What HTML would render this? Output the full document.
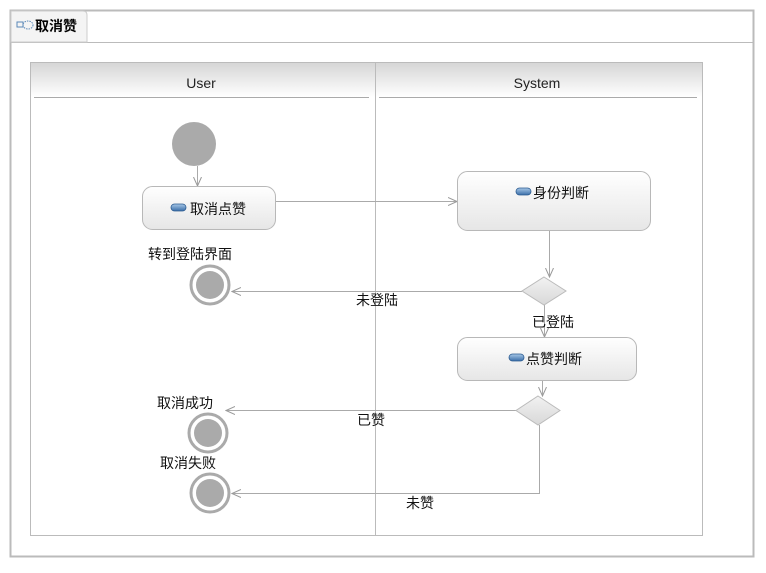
<!DOCTYPE html>
<html><head><meta charset="utf-8"><style>
body{margin:0;background:#fff;}
svg text{font-family:"Liberation Sans","Noto Sans CJK SC",sans-serif;}
</style></head><body>
<svg width="766" height="568" viewBox="0 0 766 568" xmlns="http://www.w3.org/2000/svg">
<defs>
<linearGradient id="hg" x1="0" y1="0" x2="0" y2="1"><stop offset="0" stop-color="#d6d6d6"/><stop offset="1" stop-color="#ffffff"/></linearGradient>
<linearGradient id="ag" x1="0" y1="0" x2="0" y2="1"><stop offset="0" stop-color="#ffffff"/><stop offset="1" stop-color="#e6e6e6"/></linearGradient>
<linearGradient id="dg" x1="0" y1="0" x2="0" y2="1"><stop offset="0" stop-color="#f2f2f2"/><stop offset="1" stop-color="#d8d8d8"/></linearGradient>
<linearGradient id="ig" x1="0" y1="0" x2="0" y2="1"><stop offset="0" stop-color="#a8c8e8"/><stop offset="1" stop-color="#3a6ea8"/></linearGradient>
<marker id="ar" markerWidth="10" markerHeight="10" refX="9" refY="5" orient="auto" markerUnits="userSpaceOnUse"><path d="M0,1 L9,5 L0,9" fill="none" stroke="#999" stroke-width="1"/></marker>
</defs>
<rect x="10.5" y="10.5" width="743" height="546" fill="#fff" stroke="#bbb" stroke-width="2"/>
<path d="M11 42.5 H753" stroke="#bbb"/>
<path d="M11 11 H83 Q87 11 87 15 V42 H11Z" fill="#f4f4f4" stroke="#ccc"/>
<rect x="17" y="22" width="6" height="5" fill="none" stroke="#5a88b8"/>
<ellipse cx="28" cy="25" rx="5" ry="4" fill="none" stroke="#5a88b8" stroke-dasharray="1.5,1"/>
<text x="35" y="31" font-size="14" font-weight="bold" fill="#000">取消赞</text>
<rect x="30.5" y="62.5" width="672" height="473" fill="#fff" stroke="#bbb"/>
<rect x="31" y="63" width="671" height="34" fill="url(#hg)"/>
<path d="M375.5 62 V535" stroke="#bbb"/>
<path d="M34 97.5 H369 M379 97.5 H697" stroke="#aaa"/>
<text x="201" y="88" font-size="14" text-anchor="middle" fill="#222">User</text>
<text x="537" y="88" font-size="14" text-anchor="middle" fill="#222">System</text>
<g stroke="#aaa" fill="none" stroke-width="1">
<path d="M197.5 166 V186" marker-end="url(#ar)"/>
<path d="M276 201.5 H457" marker-end="url(#ar)"/>
<path d="M549.5 230 V277" marker-end="url(#ar)"/>
<path d="M522 291.5 H232" marker-end="url(#ar)"/>
<path d="M544.5 305 V337" marker-end="url(#ar)"/>
<path d="M542.5 380 V396" marker-end="url(#ar)"/>
<path d="M516 410.5 H226" marker-end="url(#ar)"/>
<path d="M539.5 425 V493.5 H232" marker-end="url(#ar)"/>
</g>
<circle cx="194" cy="144" r="22" fill="#aaa"/>
<rect x="142.5" y="186.5" width="133" height="43" rx="10" fill="url(#ag)" stroke="#b8b8b8"/>
<rect x="457.5" y="171.5" width="193" height="59" rx="10" fill="url(#ag)" stroke="#b8b8b8"/>
<rect x="457.5" y="337.5" width="179" height="43" rx="10" fill="url(#ag)" stroke="#b8b8b8"/>
<rect x="171" y="204" width="15" height="7" rx="3.5" fill="url(#ig)" stroke="#2a5a90" stroke-width="0.8"/>
<rect x="516" y="188" width="15" height="7" rx="3.5" fill="url(#ig)" stroke="#2a5a90" stroke-width="0.8"/>
<rect x="509" y="354" width="15" height="7" rx="3.5" fill="url(#ig)" stroke="#2a5a90" stroke-width="0.8"/>
<text x="190" y="214" font-size="14" fill="#111">取消点赞</text>
<text x="533" y="198" font-size="14" fill="#111">身份判断</text>
<text x="526" y="364" font-size="14" fill="#111">点赞判断</text>
<path d="M544 277 L566 291 L544 305 L522 291Z" fill="url(#dg)" stroke="#bbb"/>
<path d="M538 396 L560 410.5 L538 425 L516 410.5Z" fill="url(#dg)" stroke="#bbb"/>
<g fill="#aaa" stroke="#aaa" stroke-width="3">
<circle cx="210" cy="285" r="19" fill="#fff"/><circle cx="210" cy="285" r="14" stroke="none"/>
<circle cx="208" cy="433" r="19" fill="#fff"/><circle cx="208" cy="433" r="14" stroke="none"/>
<circle cx="210" cy="493" r="19" fill="#fff"/><circle cx="210" cy="493" r="14" stroke="none"/>
</g>
<g font-size="14" fill="#111" text-anchor="middle">
<text x="190" y="259">转到登陆界面</text>
<text x="377" y="305">未登陆</text>
<text x="553" y="327">已登陆</text>
<text x="185" y="408">取消成功</text>
<text x="371" y="425">已赞</text>
<text x="188" y="468">取消失败</text>
<text x="420" y="508">未赞</text>
</g>
</svg>
</body></html>
